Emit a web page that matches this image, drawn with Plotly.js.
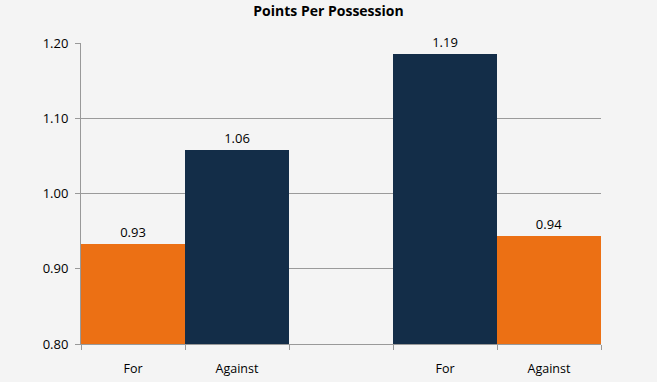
<!DOCTYPE html>
<html><head><meta charset="utf-8">
<script src="https://cdn.plot.ly/plotly-3.0.1.min.js"></script>
<style>html,body{margin:0;padding:0;background:#f4f4f4;}#chart{width:657px;height:382px;}</style>
</head><body><div id="chart"></div>
<script>
const categories = ["For", "Against", "For", "Against"];
const positions = [0, 1, 3, 4];
const values = [0.933, 1.058, 1.186, 0.944];
const barColors = ["#ec7014", "#132d48", "#132d48", "#ec7014"];
const yTicks = [0.80, 0.90, 1.00, 1.10, 1.20];
const yTickText = ["0.80", "0.90", "1.00", "1.10", "1.20"];

const trace = {
  type: "bar",
  x: positions,
  y: values,
  width: 1,
  marker: {color: barColors, line: {width: 0}},
  texttemplate: "%{y:.2f}",
  textposition: "outside",
  cliponaxis: false,
  textfont: {family: "Open Sans, sans-serif", size: 13, color: "#000"},
  hoverinfo: "none"
};

const layout = {
  width: 657, height: 382,
  margin: {l: 81, r: 56, t: 43, b: 38, pad: 0},
  paper_bgcolor: "#f4f4f4",
  plot_bgcolor: "#f4f4f4",
  showlegend: false,
  bargap: 0,
  title: {text: "<b>Points Per Possession</b>", x: 0.5, xanchor: "center", y: 0.985, yanchor: "top",
          font: {family: "Open Sans, sans-serif", size: 14, color: "#000"}},
  xaxis: {
    range: [-0.5, 4.5],
    tickvals: positions,
    ticktext: categories,
    ticks: "",
    showgrid: false,
    zeroline: false,
    showline: true,
    linecolor: "#999",
    linewidth: 1,
    tickfont: {family: "Open Sans, sans-serif", size: 12.5, color: "#000"},
    ticklabelstandoff: 13,
    minor: {tick0: -0.5, dtick: 1, ticks: "outside", ticklen: 5, tickcolor: "#999", showgrid: false}
  },
  yaxis: {
    range: [0.8, 1.2],
    tickvals: yTicks,
    ticktext: yTickText,
    ticks: "outside",
    ticklen: 5,
    tickcolor: "#999",
    showgrid: true,
    gridcolor: "#9a9a9a",
    gridwidth: 1,
    zeroline: false,
    showline: true,
    linecolor: "#999",
    linewidth: 1,
    tickfont: {family: "Open Sans, sans-serif", size: 13, color: "#000"},
    ticklabelstandoff: 4
  }
};

Plotly.newPlot("chart", [trace], layout, {displayModeBar: false, staticPlot: true});
</script></body></html>
